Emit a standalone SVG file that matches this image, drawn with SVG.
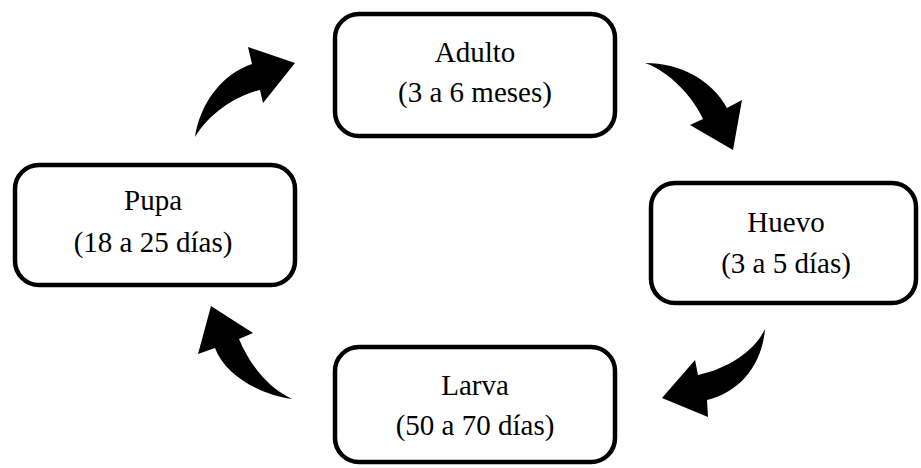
<svg xmlns="http://www.w3.org/2000/svg" width="921" height="468" viewBox="0 0 921 468">
<style>
.box{fill:#fff;stroke:#000;stroke-width:4.5}
.t{font-family:"Liberation Serif","Tinos","Times New Roman","DejaVu Serif",serif;font-size:29px;fill:#000;text-anchor:middle}
.arr{fill:#000;stroke:none}
</style>
<rect width="921" height="468" fill="#fff"/>
<g id="adulto">
<rect class="box" x="335" y="14" width="280" height="122" rx="24"/>
<text class="t" x="475" y="62">Adulto</text>
<text class="t" x="475" y="102">(3 a 6 meses)</text>
</g>
<g id="huevo">
<rect class="box" x="651" y="183" width="265" height="120" rx="24"/>
<text class="t" x="786" y="232">Huevo</text>
<text class="t" x="786" y="273">(3 a 5 días)</text>
</g>
<g id="larva">
<rect class="box" x="335" y="347" width="280" height="115" rx="24"/>
<text class="t" x="475" y="395">Larva</text>
<text class="t" x="475" y="435">(50 a 70 días)</text>
</g>
<g id="pupa">
<rect class="box" x="15" y="165" width="280" height="120" rx="24"/>
<text class="t" x="153" y="210">Pupa</text>
<text class="t" x="153" y="252">(18 a 25 días)</text>
</g>
<g id="connectors">
<path class="arr" d="M195,137 C200,105 220,75 252,64 L248,47 L295,63 L263,103 L260,90 C238,95 210,112 195,137 Z"/>
<path class="arr" d="M645,63 C680,63 712,80 727,108 L742,100 L733,150 L690,125 L703,119 C693,97 670,72 645,63 Z"/>
<path class="arr" d="M765,329 C762,365 740,392 707,400 L708,417 L662,398 L695,360 L698,375 C730,368 755,350 765,329 Z"/>
<path class="arr" d="M292,399 C260,395 225,375 215,348 L198,354 L211,306 L253,333 L239,339 C250,365 268,388 292,399 Z"/>
</g>
</svg>
